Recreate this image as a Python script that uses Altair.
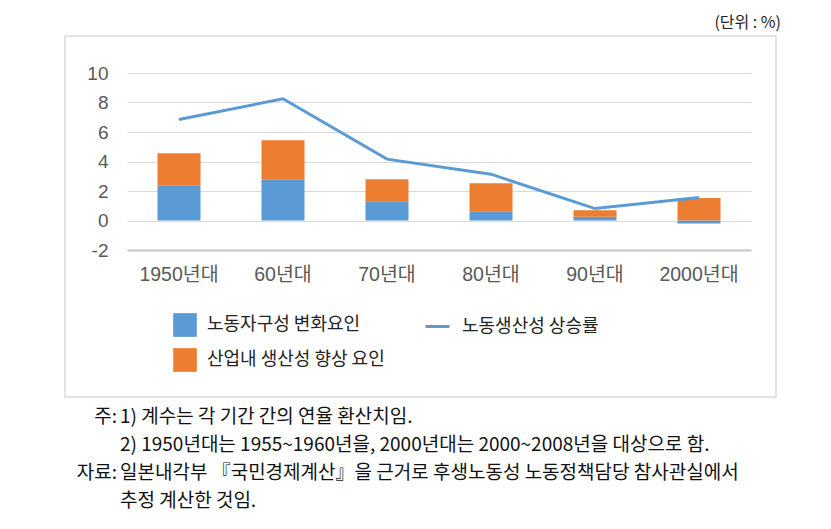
import altair as alt
import pandas as pd

categories = ["1950년대", "60년대", "70년대", "80년대", "90년대", "2000년대"]
bar_series = ["노동자구성 변화요인", "산업내 생산성 향상 요인"]
worker_comp = [2.35, 2.80, 1.31, 0.63, 0.25, -0.20]
industry_prod = [2.21, 2.64, 1.49, 1.90, 0.45, 1.53]
line_series = "노동생산성 상승률"
labor_prod = [6.85, 8.25, 4.16, 3.14, 0.81, 1.56]
y_ticks = [-2, 0, 2, 4, 6, 8, 10]
unit_text = "(단위 : %)"
note_prefix = ["주:", "", "자료:", ""]
note_lines = [
    "1) 계수는 각 기간 간의 연율 환산치임.",
    "2) 1950년대는 1955~1960년을, 2000년대는 2000~2008년을 대상으로 함.",
    "일본내각부 『국민경제계산』을 근거로 후생노동성 노동정책담당 참사관실에서",
    "추정 계산한 것임.",
]

BLUE = "#5B9BD5"
ORANGE = "#ED7D31"
LATIN = "Liberation Sans, Noto Sans CJK KR"
KOR = "Noto Sans CJK KR"

rows = []
for i, c in enumerate(categories):
    rows.append({"cat": c, "series": bar_series[0], "value": worker_comp[i], "ord": 0})
    rows.append({"cat": c, "series": bar_series[1], "value": industry_prod[i], "ord": 1})
bars_df = pd.DataFrame(rows)
line_df = pd.DataFrame({"cat": categories, "value": labor_prod, "series": [line_series] * len(categories)})
one = pd.DataFrame({"k": [0]})

x_axis = alt.Axis(labelAngle=0, ticks=False, domain=True, domainColor="#c4c4c4", domainWidth=2,
                  labelFontSize=19.5, labelColor="#595959", labelFont=LATIN, labelPadding=15, grid=False)
x_scale = alt.Scale(paddingInner=0.587, paddingOuter=0.2935)
y_axis = alt.Axis(values=y_ticks, domain=False, ticks=False, grid=True, gridColor="#d9d9d9",
                  gridWidth=1, labelFontSize=19, labelColor="#595959", labelFont=LATIN,
                  labelPadding=19, labelOverlap=False, labelExpr="'' + datum.value")
y_scale = alt.Scale(domain=[-2, 10], nice=False, zero=False)

bars = alt.Chart(bars_df).mark_bar(size=43).encode(
    x=alt.X("cat:N", sort=categories, title=None, scale=x_scale, axis=x_axis),
    y=alt.Y("value:Q", scale=y_scale, title=None, stack="zero", axis=y_axis),
    color=alt.Color("series:N", scale=alt.Scale(domain=bar_series, range=[BLUE, ORANGE]),
                    legend=alt.Legend(orient="none", legendX=46, legendY=240, title=None,
                                      symbolType="square", symbolSize=560, symbolStrokeWidth=0,
                                      labelFontSize=18, labelFont=KOR, labelColor="#222222",
                                      labelOffset=10, rowPadding=11, padding=0, labelLimit=400)),
    order=alt.Order("ord:Q"),
)

line = alt.Chart(line_df).mark_line(strokeWidth=3).encode(
    x=alt.X("cat:N", sort=categories, title=None, scale=x_scale, axis=x_axis),
    y=alt.Y("value:Q", scale=y_scale, title=None, axis=y_axis),
    stroke=alt.Stroke("series:N", scale=alt.Scale(domain=[line_series], range=[BLUE]),
                      legend=alt.Legend(orient="none", legendX=297, legendY=240, title=None,
                                        symbolType="stroke", symbolSize=576, symbolStrokeWidth=3,
                                        labelFontSize=18, labelFont=KOR, labelColor="#222222",
                                        labelOffset=11, padding=0, labelLimit=400)),
)

frame = alt.Chart(one).mark_rect(fill="transparent", stroke="#d9d9d9", strokeWidth=1.5).encode(
    x=alt.value(-62), x2=alt.value(649), y=alt.value(-37), y2=alt.value(324)
)

unit = alt.Chart(one).mark_text(align="right", baseline="middle", fontSize=16, font=KOR, color="#222222").encode(
    x=alt.value(654), y=alt.value(-50), text=alt.value(unit_text)
)

note_y = [344, 372, 400, 428]
notes = []
for i in range(4):
    if note_prefix[i]:
        notes.append(alt.Chart(one).mark_text(align="right", baseline="middle", fontSize=19, font=KOR,
                                              color="#111111").encode(
            x=alt.value(-10), y=alt.value(note_y[i]), text=alt.value(note_prefix[i])))
    notes.append(alt.Chart(one).mark_text(align="left", baseline="middle", fontSize=19, font=KOR,
                                          color="#111111").encode(
        x=alt.value(-7), y=alt.value(note_y[i]), text=alt.value(note_lines[i])))

chart = alt.layer(bars, line, frame, unit, *notes).resolve_scale(color="independent").properties(
    width=624,
    height=177,
    autosize=alt.AutoSizeParams(type="none"),
    padding={"left": 119, "top": 65, "right": 72, "bottom": 271},
).configure_view(stroke="transparent")

chart.save("out.html", embed_options={"renderer": "svg", "actions": False})
